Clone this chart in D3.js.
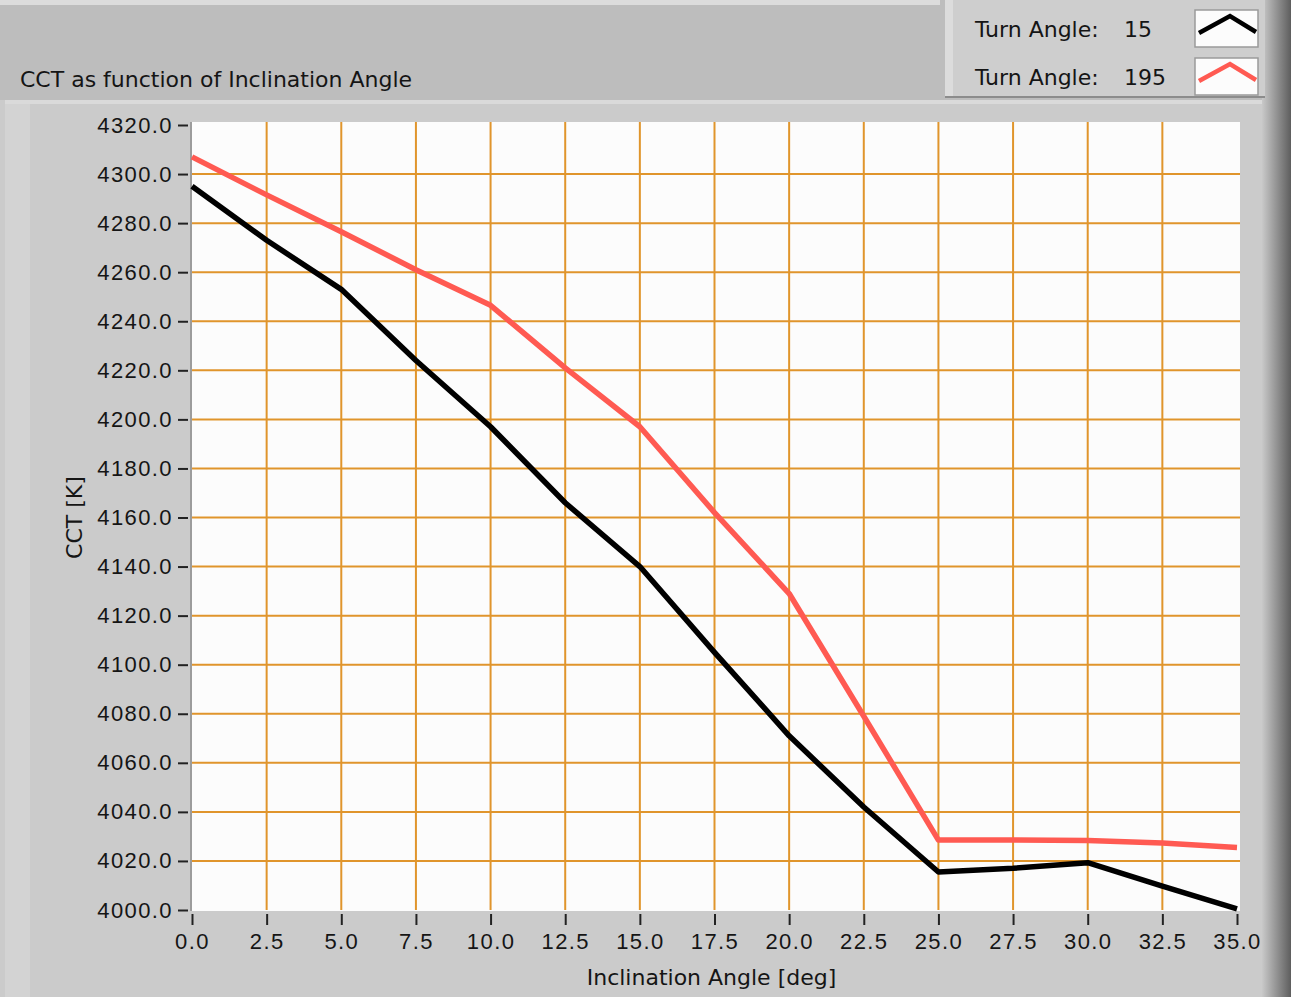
<!DOCTYPE html>
<html>
<head>
<meta charset="utf-8">
<script src="https://cdn.jsdelivr.net/npm/d3@7"></script>
<style>
  body { margin: 0; background: #c9c9c9; }
  svg { display: block; font-family: "DejaVu Sans", sans-serif; }
  .tick text { font-size: 22px; letter-spacing: 1.4px; fill: #151515; }
</style>
</head>
<body>
<svg id="chart" width="1291" height="997"></svg>
<script>
// inclination angle [deg]
const angles = [0, 2.5, 5, 7.5, 10, 12.5, 15, 17.5, 20, 22.5, 25, 27.5, 30, 32.5, 35];
// CCT [K] for turn angle 15
const cct15 = [4295, 4273, 4253, 4224, 4197, 4166, 4140, 4105, 4071, 4042, 4015.5, 4017, 4019.3, 4009.7, 4000.5];
// CCT [K] for turn angle 195
const cct195 = [4307, 4291.5, 4276.5, 4261, 4246.5, 4221, 4197, 4162, 4129, 4079, 4028.5, 4028.5, 4028.3, 4027.3, 4025.5];

const seriesNames = ["15", "195"];
const seriesColors = ["#000000", "#ff5a52"];
const xTicks = d3.range(0, 35.01, 2.5);
const yTicks = d3.range(4000, 4320.01, 20);

const svg = d3.select("#chart");
const W = 1291, H = 997;
const plot = { left: 192, right: 1237, top: 125, bottom: 910 };

// panel background
const defs = svg.append("defs");
const grad = defs.append("linearGradient").attr("id", "rightEdge");
grad.append("stop").attr("offset", "0%").attr("stop-color", "#c9c9c9");
grad.append("stop").attr("offset", "100%").attr("stop-color", "#5e5e5e");

svg.append("rect").attr("width", W).attr("height", H).attr("fill", "#cbcbcb");
svg.append("rect").attr("width", W).attr("height", 100).attr("fill", "#bdbdbd");
svg.append("rect").attr("width", 940).attr("height", 5).attr("fill", "#dcdcdc");
svg.append("rect").attr("x", 5).attr("y", 100).attr("width", W).attr("height", 4).attr("fill", "#dadada");
svg.append("rect").attr("x", 5).attr("y", 104).attr("width", 25).attr("height", H).attr("fill", "#d3d3d3");
svg.append("rect").attr("x", 1262).attr("width", 29).attr("height", H).attr("fill", "url(#rightEdge)");

svg.append("text")
    .attr("x", 20).attr("y", 87)
    .attr("font-size", "22px")
    .attr("fill", "#151515")
    .text("CCT as function of Inclination Angle");

// legend
const legend = svg.append("g");
legend.append("rect").attr("x", 945).attr("y", 0).attr("width", 320).attr("height", 97).attr("fill", "#cecece");
legend.append("rect").attr("x", 945).attr("y", 0).attr("width", 8).attr("height", 97).attr("fill", "#dcdcdc");
legend.append("rect").attr("x", 945).attr("y", 96).attr("width", 320).attr("height", 2).attr("fill", "#8c8c8c");

seriesNames.forEach((name, i) => {
    const row = legend.append("g").attr("transform", `translate(0, ${i * 48})`);
    row.append("text").attr("x", 975).attr("y", 37).attr("font-size", "22px").attr("fill", "#151515").text("Turn Angle:");
    row.append("text").attr("x", 1124).attr("y", 37).attr("font-size", "22px").attr("fill", "#151515").text(name);
    row.append("rect").attr("x", 1195).attr("y", 10).attr("width", 63).attr("height", 37)
        .attr("fill", "#fcfcfc").attr("stroke", "#9a9a9a").attr("stroke-width", 1.5);
    row.append("polyline")
        .attr("points", "1199,33 1230,16 1256,32")
        .attr("fill", "none")
        .attr("stroke", seriesColors[i])
        .attr("stroke-width", 4.5);
});

// scales
const x = d3.scaleLinear().domain([0, 35]).range([plot.left, plot.right]);
const y = d3.scaleLinear().domain([4000, 4320]).range([plot.bottom, plot.top]);

// plot area
svg.append("rect")
    .attr("x", plot.left).attr("y", plot.top - 3)
    .attr("width", plot.right - plot.left + 3).attr("height", plot.bottom - plot.top + 4)
    .attr("fill", "#fcfcfc");
svg.append("line")
    .attr("x1", plot.left - 1).attr("x2", plot.left - 1)
    .attr("y1", plot.top - 3).attr("y2", plot.bottom + 1)
    .attr("stroke", "#9c9c9c").attr("stroke-width", 2);

// grid
const grid = svg.append("g").attr("stroke", "#e0952c").attr("stroke-width", 2);
grid.selectAll(".vgrid")
    .data(xTicks.filter(d => d > 0 && d < 35))
    .enter().append("line")
    .attr("x1", d => x(d)).attr("x2", d => x(d))
    .attr("y1", plot.top - 3).attr("y2", plot.bottom);
grid.selectAll(".hgrid")
    .data(yTicks.filter(d => d > 4000 && d < 4320))
    .enter().append("line")
    .attr("x1", plot.left).attr("x2", plot.right + 3)
    .attr("y1", d => y(d)).attr("y2", d => y(d));

// axes
const yAxis = d3.axisLeft(y).tickValues(yTicks).tickFormat(d3.format(".1f")).tickSize(10).tickPadding(5);
const xAxis = d3.axisBottom(x).tickValues(xTicks).tickFormat(d3.format(".1f")).tickSize(11).tickPadding(8);

svg.append("g")
    .attr("transform", `translate(${plot.left - 4}, 0)`)
    .call(yAxis)
    .call(g => g.select(".domain").remove())
    .call(g => g.selectAll(".tick line").attr("stroke", "#222").attr("stroke-width", 2));

svg.append("g")
    .attr("transform", `translate(0, ${plot.bottom + 4})`)
    .call(xAxis)
    .call(g => g.select(".domain").remove())
    .call(g => g.selectAll(".tick line").attr("stroke", "#222").attr("stroke-width", 2));

svg.append("text")
    .attr("transform", `translate(82, ${(plot.top + plot.bottom) / 2}) rotate(-90)`)
    .attr("text-anchor", "middle")
    .attr("font-size", "22px")
    .attr("fill", "#151515")
    .text("CCT [K]");

svg.append("text")
    .attr("x", (plot.left + plot.right) / 2 - 3).attr("y", 985)
    .attr("text-anchor", "middle")
    .attr("font-size", "22px")
    .attr("fill", "#151515")
    .text("Inclination Angle [deg]");

// lines
const line = d3.line().x((d, i) => x(angles[i])).y(d => y(d));
[cct15, cct195].forEach((vals, i) => {
    svg.append("path")
        .datum(vals)
        .attr("d", line)
        .attr("fill", "none")
        .attr("stroke", seriesColors[i])
        .attr("stroke-width", 5.5)
        .attr("stroke-linejoin", "round");
});
</script>
</body>
</html>
